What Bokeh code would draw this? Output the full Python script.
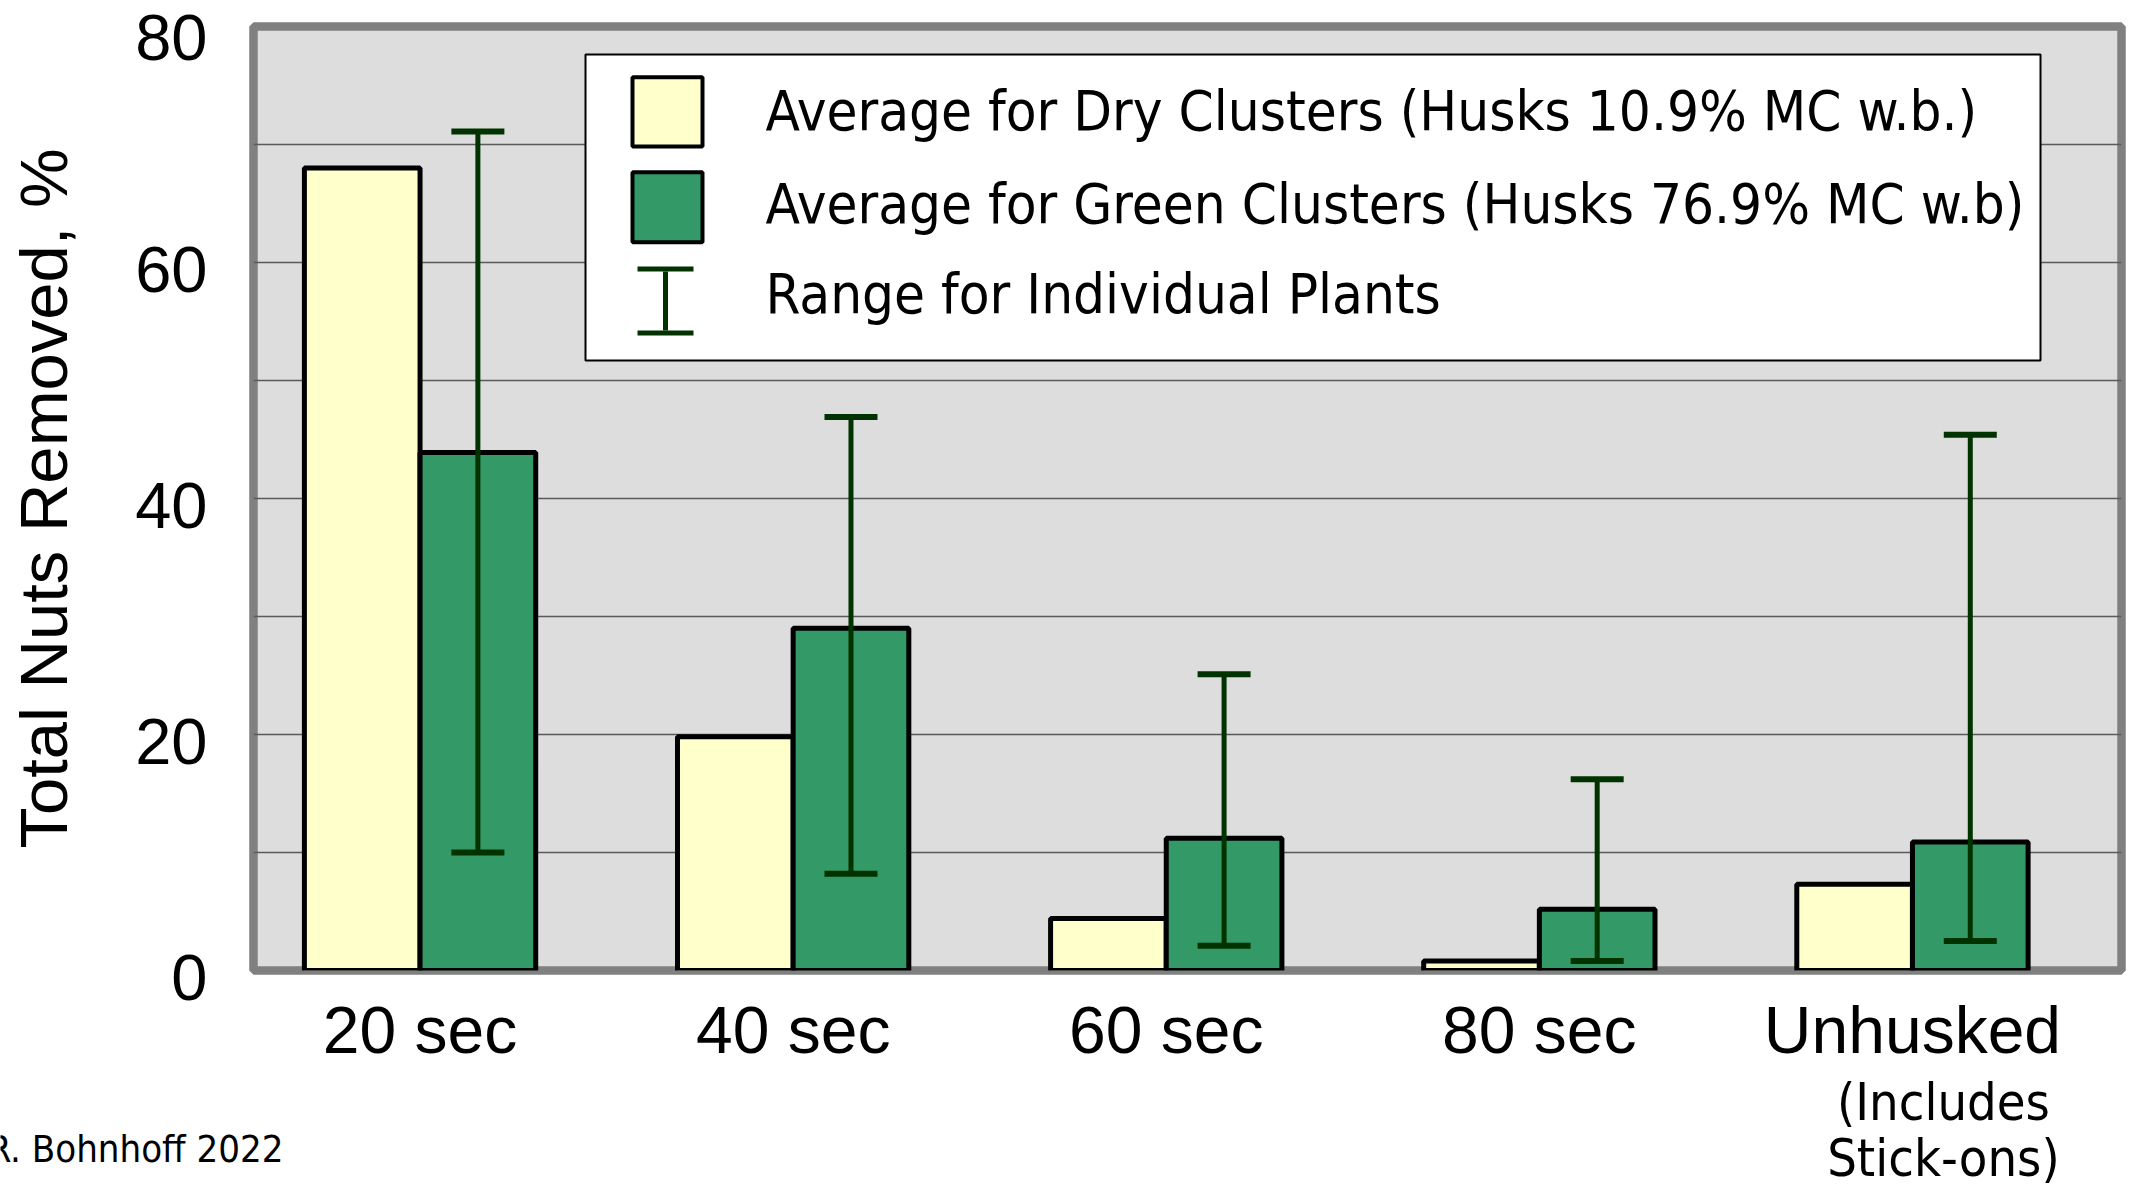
import numpy as np
from bokeh.plotting import figure
from bokeh.layouts import column
from bokeh.models import (ColumnDataSource, FixedTicker, Whisker, TeeHead, Label,
                          BoxAnnotation, Range1d)
from bokeh.transform import dodge
from bokeh.embed import file_html
from bokeh.resources import INLINE

# ---------------- data ----------------
categories = ["20 sec", "40 sec", "60 sec", "80 sec", "Unhusked"]
dry_avg = [68.0, 19.8, 4.4, 0.8, 7.3]
green_avg = [43.9, 29.0, 11.2, 5.2, 10.9]
range_low = [10.0, 8.2, 2.1, 0.8, 2.5]
range_high = [71.1, 46.9, 25.1, 16.2, 45.4]
y_ticks = [0, 20, 40, 60, 80]
grid_ticks = [0, 10, 20, 30, 40, 50, 60, 70, 80]
legend_labels = [
    "Average for Dry Clusters (Husks 10.9% MC w.b.)",
    "Average for Green Clusters (Husks 76.9% MC w.b)",
    "Range for Individual Plants",
]
y_title = "Total Nuts Removed, %"
sub_label = ["(Includes", "Stick-ons)"]
credit = "R. Bohnhoff 2022"

# ---------------- style / layout ----------------
DRY = "#FFFFCC"
GREEN = "#339966"
ERR = "#003300"
BG = "#DDDDDD"
AX_FONT = "Liberation Sans"
LG_FONT = "DejaVu Sans Condensed"

W = 2128
H_MAIN = 1069
H_FOOT = 121
FL, FR, FT, FB = 253, 7, 26, 96           # borders around the main frame
X0, X1 = -0.4464, 4.5603                   # main x range

xs = list(range(len(categories)))
src = ColumnDataSource(dict(x=xs, dry=dry_avg, green=green_avg, lo=range_low, hi=range_high))

p = figure(width=W, height=H_MAIN, x_range=Range1d(X0, X1), y_range=Range1d(0, 80),
           output_backend="svg", toolbar_location=None, title=None,
           min_border_left=FL, min_border_right=FR, min_border_top=FT, min_border_bottom=FB,
           background_fill_color=BG, border_fill_color="white",
           outline_line_color="#808080", outline_line_width=8.5, outline_line_alpha=1.0)
p.frame_align = False

bw = 0.31
p.vbar(x=dodge("x", -bw / 2, range=p.x_range), top="dry", width=bw, source=src,
       fill_color=DRY, line_color="black", line_width=5)
p.vbar(x=dodge("x", bw / 2, range=p.x_range), top="green", width=bw, source=src,
       fill_color=GREEN, line_color="black", line_width=5)

wh = Whisker(source=src, base=dodge("x", bw / 2, range=p.x_range), upper="hi", lower="lo",
             line_color=ERR, line_width=5,
             upper_head=TeeHead(size=53, line_color=ERR, line_width=6),
             lower_head=TeeHead(size=53, line_color=ERR, line_width=6), level="overlay")
p.add_layout(wh)

# axes
p.xaxis.ticker = FixedTicker(ticks=xs)
p.xaxis.major_label_overrides = {i: c for i, c in zip(xs, categories)}
p.xaxis.major_label_text_font = AX_FONT
p.xaxis.major_label_text_font_size = "66px"
p.xaxis.major_label_text_color = "black"
p.xaxis.major_label_standoff = 16
p.yaxis.ticker = FixedTicker(ticks=y_ticks)
# a leading empty line with a small line height drops the value labels a few pixels
# (the top label already sits against the page edge, so it stays single-line)
p.yaxis.major_label_overrides = {t: (str(t) if t == y_ticks[-1] else "\n" + str(t))
                                 for t in y_ticks}
p.yaxis.major_label_text_line_height = 0.18
p.yaxis.major_label_text_font = AX_FONT
p.yaxis.major_label_text_font_size = "65px"
p.yaxis.major_label_text_color = "black"
p.yaxis.major_label_standoff = 40
p.yaxis.axis_label = y_title
p.yaxis.axis_label_text_font = AX_FONT
p.yaxis.axis_label_text_font_size = "67px"
p.yaxis.axis_label_text_font_style = "normal"
p.yaxis.axis_label_text_color = "black"
p.yaxis.axis_label_standoff = 51
for ax in (p.xaxis, p.yaxis):
    ax.axis_line_color = None
    ax.major_tick_line_color = None
    ax.minor_tick_line_color = None

p.xgrid.grid_line_color = None
p.ygrid.ticker = FixedTicker(ticks=grid_ticks)
p.ygrid.grid_line_color = "#5a5a5a"
p.ygrid.grid_line_width = 1.5

# legend (manual, in screen pixels relative to the frame)
def box(l, r, t, b, fill, line=None, lw=0):
    return BoxAnnotation(left=l, right=r, top=t, bottom=b,
                         left_units="screen", right_units="screen",
                         top_units="screen", bottom_units="screen",
                         fill_color=fill, fill_alpha=1.0,
                         line_color=line, line_width=lw, line_alpha=1.0, level="overlay")

p.add_layout(box(332, 1787, 916, 610, "white", "black", 2))
p.add_layout(box(379, 449, 893.3, 824, DRY, "black", 4))
p.add_layout(box(379, 449, 798.3, 728.3, GREEN, "black", 4))
p.add_layout(box(384, 440, 704, 699, ERR))
p.add_layout(box(384, 440, 640, 635, ERR))
p.add_layout(box(409.5, 414.5, 699, 640, ERR))
for txt, yy in zip(legend_labels, [859.8, 766.8, 676.8]):
    p.add_layout(Label(x=512, y=yy, x_units="screen", y_units="screen", text=txt,
                       text_align="left", text_baseline="alphabetic",
                       text_font=LG_FONT, text_font_size="56px", text_color="black",
                       level="overlay"))

# ---------------- footer strip (notes below the axis) ----------------
ppu = (X1 - X0) / (W - FL - FR)
fx0 = X0 - FL * ppu
fx1 = fx0 + W * ppu
foot = figure(width=W, height=H_FOOT, x_range=Range1d(fx0, fx1), y_range=Range1d(0, 1),
              output_backend="svg", toolbar_location=None, title=None,
              min_border_left=0, min_border_right=0, min_border_top=0, min_border_bottom=0,
              x_axis_location=None, y_axis_location=None,
              background_fill_color="white", border_fill_color="white", outline_line_color=None)
foot.frame_align = False
foot.grid.visible = False

for txt, yy in zip(sub_label, [88.3, 32.3]):
    foot.add_layout(Label(x=xs[-1], x_offset=31, y=yy, y_units="screen", text=txt,
                          text_align="center", text_baseline="alphabetic",
                          text_font=LG_FONT, text_font_size="52px", text_color="black"))

foot.add_layout(Label(x=283, y=41.8, x_units="screen", y_units="screen", text=credit,
                      text_align="right", text_baseline="alphabetic",
                      text_font=LG_FONT, text_font_size="38px", text_color="black"))

layout = column(p, foot, spacing=0)
open("out.html", "w").write(file_html(layout, INLINE))
